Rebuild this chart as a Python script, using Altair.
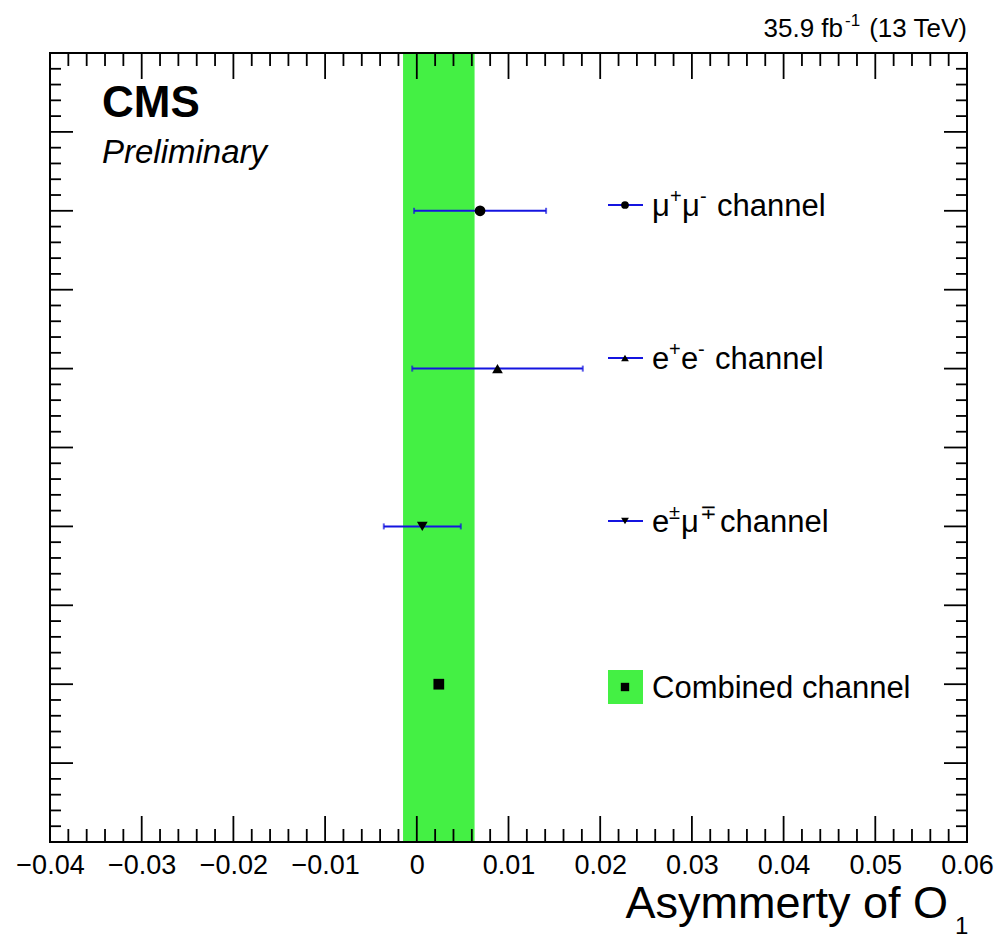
import altair as alt
import numpy as np
import pandas as pd

# ---- measured asymmetries per channel ----
channels = ["mumu", "ee", "emu", "combined"]
rows = [8, 6, 4, 2]
values = [0.0069, 0.0088, 0.0006, 0.0024]
errors = [0.0072, 0.0093, 0.0042, 0.0039]
shapes = ["circle", "triangle-up", "triangle-down", "square"]

x_labels = [-0.04, -0.03, -0.02, -0.01, 0.0, 0.01, 0.02, 0.03, 0.04, 0.05, 0.06]

# ---- layout ----
FONT = "Liberation Sans"
LEFT, TOP, W, H = 50, 53, 917, 789
BLUE = "#1414e0"
GREEN = "#44f044"

xs = alt.Scale(domain=[-0.04, 0.06], nice=False, zero=False)
ys = alt.Scale(domain=[0, 10], nice=False, zero=False)
XAX = alt.Axis(
    values=x_labels,
    labelExpr="datum.value == 0 ? '0' : format(datum.value, '.2f')",
    ticks=False, tickSize=0, domain=False, grid=False,
    labelFont=FONT, labelFontSize=27, labelColor="black",
    labelBaseline="alphabetic", labelPadding=31,
    labelFlush=False, labelOverlap=False, title=None,
)

df = pd.DataFrame({"channel": channels, "row": rows, "v": values, "err": errors})
df["lo"] = df["v"] - df["err"]
df["hi"] = df["v"] + df["err"]
comb = df[df["channel"] == "combined"]
singles = df[df["channel"] != "combined"]
caps = pd.concat([
    singles[["row"]].assign(v=singles["lo"]),
    singles[["row"]].assign(v=singles["hi"]),
])

band = alt.Chart(comb).mark_rect(color=GREEN).encode(
    x=alt.X("lo:Q", scale=xs, axis=XAX),
    x2="hi:Q",
    y=alt.value(0), y2=alt.value(H),
)

bars = alt.Chart(singles).mark_rule(color=BLUE, strokeWidth=2).encode(
    x=alt.X("lo:Q", scale=xs, axis=XAX),
    x2="hi:Q",
    y=alt.Y("row:Q", scale=ys, axis=None),
)

cap_marks = alt.Chart(caps).mark_tick(color=BLUE, orient="vertical", size=6, thickness=2).encode(
    x=alt.X("v:Q", scale=xs, axis=XAX),
    y=alt.Y("row:Q", scale=ys, axis=None),
)

points = alt.Chart(df).mark_point(filled=True, color="black", opacity=1, size=115).encode(
    x=alt.X("v:Q", scale=xs, axis=XAX),
    y=alt.Y("row:Q", scale=ys, axis=None),
    shape=alt.Shape("channel:N", scale=alt.Scale(domain=channels, range=shapes), legend=None),
)


# ---- inward ticks on all four sides ----
def ticks_x(vals, length):
    d = pd.DataFrame({"t": vals})
    bottom = alt.Chart(d).mark_rule(color="black", strokeWidth=1.8).encode(
        x=alt.X("t:Q", scale=xs, axis=XAX), y=alt.value(H), y2=alt.value(H - length))
    top = alt.Chart(d).mark_rule(color="black", strokeWidth=1.8).encode(
        x=alt.X("t:Q", scale=xs, axis=XAX), y=alt.value(0), y2=alt.value(length))
    return [bottom, top]


def ticks_y(vals, length):
    d = pd.DataFrame({"t": vals})
    left = alt.Chart(d).mark_rule(color="black", strokeWidth=1.8).encode(
        y=alt.Y("t:Q", scale=ys, axis=None), x=alt.value(0), x2=alt.value(length))
    right = alt.Chart(d).mark_rule(color="black", strokeWidth=1.8).encode(
        y=alt.Y("t:Q", scale=ys, axis=None), x=alt.value(W - length), x2=alt.value(W))
    return [left, right]


x_all = np.round(np.arange(-0.04, 0.0601, 0.002), 4)
x_major = np.round(np.arange(-0.04, 0.0601, 0.01), 4)
x_minor = [v for v in x_all if not np.any(np.isclose(v, x_major))]
y_all = np.round(np.arange(0, 10.01, 0.2), 2)
y_major = np.arange(0, 11, 1)
y_minor = [v for v in y_all if not np.any(np.isclose(v, y_major))]

tick_layers = (ticks_x(list(x_major[1:-1]), 26) + ticks_x(x_minor, 13)
               + ticks_y(list(y_major[1:-1]), 23) + ticks_y(y_minor, 11))

one = pd.DataFrame({"k": [0]})
frame = alt.Chart(one).mark_rect(filled=False, stroke="black", strokeWidth=2).encode(
    x=alt.value(0), x2=alt.value(W), y=alt.value(0), y2=alt.value(H))


def text(s, x, y, size, align="left", weight="normal", style="normal"):
    return alt.Chart(pd.DataFrame({"s": [s]})).mark_text(
        align=align, baseline="alphabetic", font=FONT, fontSize=size,
        fontWeight=weight, fontStyle=style, color="black",
    ).encode(x=alt.value(x - LEFT), y=alt.value(y - TOP), text="s:N")


labels = [
    text("CMS", 102, 117, 44, weight="bold"),
    text("Preliminary", 102, 163, 33, style="italic"),
    text("35.9 fb", 843, 37, 26, align="right"),
    text("-1", 845, 26, 17),
    text("(13 TeV)", 967, 37, 26, align="right"),
    text("Asymmerty of O", 948, 918, 45, align="right"),
    text("1", 955, 934, 24),
]

# ---- legend ----
LEG_Y = [205, 358, 521, 687]
LEG_X0, LEG_X1, LEG_MX = 608, 643, 625
legend_layers = []
for ly, shp in zip(LEG_Y[:3], shapes[:3]):
    legend_layers.append(alt.Chart(one).mark_rule(color=BLUE, strokeWidth=2).encode(
        x=alt.value(LEG_X0 - LEFT), x2=alt.value(LEG_X1 - LEFT), y=alt.value(ly - TOP)))
    legend_layers.append(alt.Chart(one).mark_point(
        filled=True, color="black", opacity=1, shape=shp, size=60).encode(
        x=alt.value(LEG_MX - LEFT), y=alt.value(ly - TOP)))
ly = LEG_Y[3]
legend_layers.append(alt.Chart(one).mark_rect(color=GREEN).encode(
    x=alt.value(LEG_X0 - LEFT), x2=alt.value(LEG_X1 - LEFT),
    y=alt.value(ly - 17 - TOP), y2=alt.value(ly + 17 - TOP)))
legend_layers.append(alt.Chart(one).mark_point(
    filled=True, color="black", opacity=1, shape="square", size=70).encode(
    x=alt.value(LEG_MX - LEFT), y=alt.value(ly - TOP)))

LS, SS = 31, 20  # label and superscript font sizes
legend_text = []
for (pieces, ly) in [
    ([("μ", 652, 0), ("+", 670, 1), ("μ", 682, 0), ("-", 700, 1), ("channel", 717, 0)], LEG_Y[0]),
    ([("e", 652, 0), ("+", 669, 1), ("e", 681, 0), ("-", 698, 1), ("channel", 715, 0)], LEG_Y[1]),
    ([("e", 652, 0), ("±", 669, 1), ("μ", 681, 0), ("∓", 700, 1), ("channel", 720, 0)], LEG_Y[2]),
    ([("Combined channel", 652, 0)], LEG_Y[3]),
]:
    for s, x, sup in pieces:
        if sup:
            legend_text.append(text(s, x, ly - 2, SS))
        else:
            legend_text.append(text(s, x, ly + 11, LS))

chart = alt.layer(
    band, *tick_layers, bars, cap_marks, points, frame,
    *legend_layers, *legend_text, *labels,
).properties(
    width=W, height=H,
    autosize=alt.AutoSizeParams(type="none"),
    padding={"left": LEFT, "top": TOP, "right": 1000 - LEFT - W, "bottom": 939 - TOP - H},
    background="white",
).configure_view(stroke=None)

chart.save("out.html", embed_options={"renderer": "svg", "actions": False})
